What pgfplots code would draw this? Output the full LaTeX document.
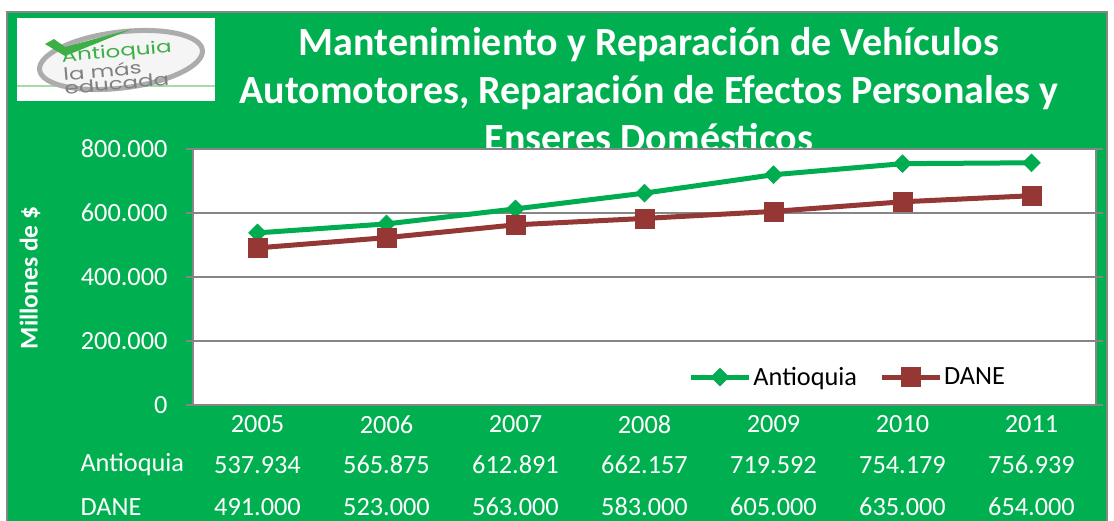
\documentclass[border=0pt]{standalone}
\usepackage{pgfplots}
\pgfplotsset{compat=1.18}
\usepackage{fontspec}
\setmainfont{Carlito}
\newfontfamily\logofont{Poppins}
\definecolor{bggreen}{RGB}{0,176,80}
\definecolor{lngreen}{RGB}{0,172,80}
\definecolor{dane}{RGB}{149,55,53}
\definecolor{gridgray}{RGB}{134,134,134}
\definecolor{logogreen}{RGB}{60,175,70}
\newcommand{\fs}[1]{\fontsize{#1bp}{1.2\dimexpr#1bp\relax}\selectfont}
\begin{document}
\begin{tikzpicture}
\useasboundingbox (0,0) rectangle (1114bp,-521bp);
\begin{scope}[x=1bp,y=-1bp]
\fill[white] (0,0) rectangle (1114,521);
\fill[bggreen] (7,12) rectangle (1107,530);
\draw[gridgray, line width=2bp] (7,530) -- (7,12) -- (1107,12) -- (1107,530);
% logo
\fill[white] (17,18) rectangle (215,101);
\draw[logogreen!45, line width=1.5bp] (17,86) -- (215,86);
\fill[gray!8, rotate around={7:(121,60)}] (121,60) ellipse (82 and 28);
\draw[gray!65, line width=5bp, rotate around={7:(121,60)}] (121,60) ellipse (82 and 28);
\fill[logogreen] (45,44) -- (54,39) -- (65,47) -- (132,29) -- (65,56) -- cycle;
\node[rotate=5, xscale=1.35, align=left, font=\logofont\fontsize{17bp}{10bp}\selectfont, inner sep=0pt] at (118,67)
 {\textcolor{logogreen}{Antioquia}\\\textcolor{gray}{la más}\\\textcolor{gray}{educada}};
% title
\node[text=white, font=\bfseries\fontsize{40bp}{48bp}\selectfont, align=center] at (649,90)
 {Mantenimiento y Reparación de Vehículos\\Automotores, Reparación de Efectos Personales y\\Enseres Domésticos};
% y label
\node[rotate=90, text=white, font=\bfseries\fs{25.5}] at (30,278) {Millones de \$};
% table row labels
\node[anchor=west, text=white, font=\fs{26.3}] at (77,465) {Antioquia};
\node[anchor=west, text=white, font=\fs{26.3}] at (77,507) {DANE};
\end{scope}
\begin{axis}[
  at={(193bp,-405bp)}, anchor=south west,
  scale only axis, width=903bp, height=256bp,
  xmin=-0.5, xmax=6.5, ymin=0, ymax=800000,
  xtick={0,...,6},
  xticklabels={2005,2006,2007,2008,2009,2010,2011},
  ytick={0,200000,400000,600000,800000},
  scaled y ticks=false,
  yticklabel style={xshift=-15bp, /pgf/number format/.cd, fixed, 1000 sep={.}, assume math mode=true},
  ticklabel style={text=white, font=\fs{26.3}},
  xtick style={draw=none},
  tick align=outside, major tick length=7bp,
  ytick style={gridgray, line width=1.5bp},
  ymajorgrids, grid style={gridgray, line width=1.5bp},
  axis line style={gridgray, line width=1.5bp},
  axis background/.style={fill=white},
  clip=false,
  legend style={at={(rel axis cs:0.725,0.109)}, anchor=center, draw=none, fill=none,
    font=\fs{26.3}, text=black, legend columns=2,
    /tikz/every even column/.append style={column sep=20bp}},
  legend image code/.code={\draw[mark repeat=2,mark phase=2,#1] plot coordinates {(0bp,0bp) (29bp,0bp) (58bp,0bp)};},
]
\addplot[color=lngreen, line width=5bp, mark=square*, mark size=6.3bp, mark options={solid, rotate=45, line width=0.5bp}]
 coordinates {(0,537934) (1,565875) (2,612891) (3,662157) (4,719592) (5,754179) (6,756939)};
\addlegendentry{Antioquia}
\addplot[color=dane, line width=5bp, mark=square*, mark size=9.5bp, mark options={solid, line width=0.5bp}]
 coordinates {(0,491000) (1,523000) (2,563000) (3,583000) (4,605000) (5,635000) (6,654000)};
\addlegendentry{DANE}
% data table
\node[text=white, font=\fs{26.3}, yshift=-60bp] at (axis cs:0,0) {537.934};
\node[text=white, font=\fs{26.3}, yshift=-60bp] at (axis cs:1,0) {565.875};
\node[text=white, font=\fs{26.3}, yshift=-60bp] at (axis cs:2,0) {612.891};
\node[text=white, font=\fs{26.3}, yshift=-60bp] at (axis cs:3,0) {662.157};
\node[text=white, font=\fs{26.3}, yshift=-60bp] at (axis cs:4,0) {719.592};
\node[text=white, font=\fs{26.3}, yshift=-60bp] at (axis cs:5,0) {754.179};
\node[text=white, font=\fs{26.3}, yshift=-60bp] at (axis cs:6,0) {756.939};
\node[text=white, font=\fs{26.3}, yshift=-102bp] at (axis cs:0,0) {491.000};
\node[text=white, font=\fs{26.3}, yshift=-102bp] at (axis cs:1,0) {523.000};
\node[text=white, font=\fs{26.3}, yshift=-102bp] at (axis cs:2,0) {563.000};
\node[text=white, font=\fs{26.3}, yshift=-102bp] at (axis cs:3,0) {583.000};
\node[text=white, font=\fs{26.3}, yshift=-102bp] at (axis cs:4,0) {605.000};
\node[text=white, font=\fs{26.3}, yshift=-102bp] at (axis cs:5,0) {635.000};
\node[text=white, font=\fs{26.3}, yshift=-102bp] at (axis cs:6,0) {654.000};
\end{axis}
\end{tikzpicture}
\end{document}
